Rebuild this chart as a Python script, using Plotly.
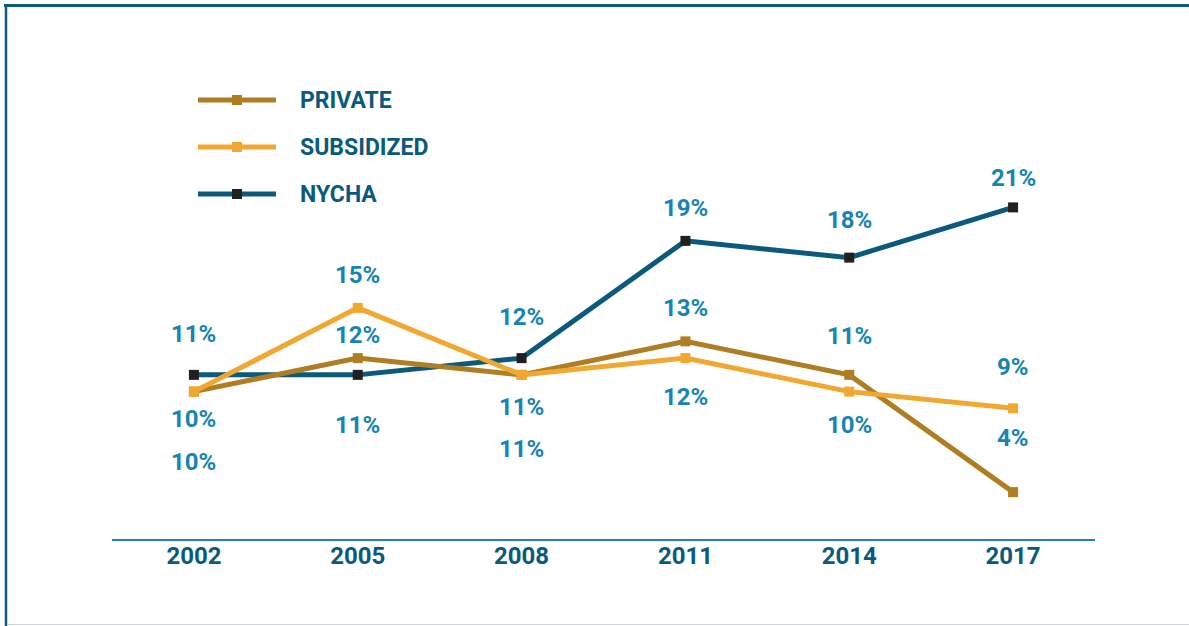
import plotly.graph_objects as go

# ---- data ----
years = ["2002", "2005", "2008", "2011", "2014", "2017"]
series_names = ["PRIVATE", "SUBSIDIZED", "NYCHA"]
private = [10, 12, 11, 13, 11, 4]
subsidized = [10, 15, 11, 12, 10, 9]
nycha = [11, 11, 12, 19, 18, 21]

# ---- styling ----
W, H = 1189, 626
ML, MR, MT, MB = 112, 94, 60, 87
PW, PH = W - ML - MR, H - MT - MB
Y_RANGE = [1.2, 29.8]

C_PRIV = "#b07e22"
C_SUB = "#f0a830"
C_NYC = "#0b5a7b"
C_NYC_MK = "#231f20"
C_LABEL = "#1785b0"
C_TICK = "#0b5a7b"
C_AXIS = "#1a87b0"
FONT = "Roboto"

# label pixel offsets (positive = up)
off_priv = [-70, 23, -32, 33, 39, 54]
off_sub = [-27, 33, -74, -39, -33, 41]
off_nyc = [41, -50, 41, 33, 38, 29]


def px_x(px):
    return (px - ML) / PW


def px_y(py):
    return (H - MB - py) / PH


fig = go.Figure()

traces = [
    ("NYCHA", nycha, C_NYC, C_NYC_MK),
    ("PRIVATE", private, C_PRIV, C_PRIV),
    ("SUBSIDIZED", subsidized, C_SUB, C_SUB),
]
for name, vals, lc, mc in traces:
    fig.add_trace(go.Scatter(
        x=years, y=vals, name=name, mode="lines+markers",
        line=dict(color=lc, width=5),
        marker=dict(symbol="square", size=10, color=mc),
        showlegend=False, hoverinfo="skip",
    ))

annotations = []
for vals, offs in [(nycha, off_nyc), (private, off_priv), (subsidized, off_sub)]:
    for i, (v, o) in enumerate(zip(vals, offs)):
        annotations.append(dict(
            x=i, y=v, xref="x", yref="y", text=f"{v}%", showarrow=False,
            xanchor="center", yanchor="middle",
            yshift=o, font=dict(family=FONT, size=24, color=C_LABEL, weight="bold"),
        ))

# manual legend
shapes = []
leg_colors = {"PRIVATE": (C_PRIV, C_PRIV), "SUBSIDIZED": (C_SUB, C_SUB), "NYCHA": (C_NYC, C_NYC_MK)}
leg_y = [100, 147, 194]
for name, py in zip(series_names, leg_y):
    lc, mc = leg_colors[name]
    shapes.append(dict(type="line", xref="paper", yref="paper",
                       x0=px_x(198), x1=px_x(276), y0=px_y(py), y1=px_y(py),
                       line=dict(color=lc, width=5)))
    shapes.append(dict(type="rect", xref="paper", yref="paper",
                       x0=px_x(232), x1=px_x(242), y0=px_y(py - 5), y1=px_y(py + 5),
                       fillcolor=mc, line=dict(width=0)))
    annotations.append(dict(
        x=px_x(298), y=px_y(py), xref="paper", yref="paper", text=name,
        showarrow=False, xanchor="left", yanchor="middle", yshift=0,
        font=dict(family=FONT, size=23, color=C_TICK, weight="bold"),
    ))

# frame
shapes.append(dict(type="line", xref="paper", yref="paper",
                   x0=px_x(4), x1=px_x(1189), y0=px_y(5.5), y1=px_y(5.5),
                   line=dict(color=C_NYC, width=3)))
shapes.append(dict(type="line", xref="paper", yref="paper",
                   x0=px_x(6), x1=px_x(6), y0=px_y(4), y1=px_y(626),
                   line=dict(color=C_NYC, width=2.5)))
shapes.append(dict(type="line", xref="paper", yref="paper",
                   x0=px_x(7), x1=px_x(1189), y0=px_y(624.5), y1=px_y(624.5),
                   line=dict(color="#cdd5dc", width=1)))

fig.update_layout(
    width=W, height=H,
    margin=dict(l=ML, r=MR, t=MT, b=MB),
    paper_bgcolor="white", plot_bgcolor="white",
    showlegend=False,
    annotations=annotations,
    shapes=shapes,
    xaxis=dict(
        type="category", range=[-0.5, 5.5], showgrid=False, zeroline=False,
        showline=True, linecolor=C_AXIS, linewidth=2,
        ticks="", tickfont=dict(family=FONT, size=24, color=C_TICK, weight="bold"),
        ticklabelstandoff=-6,
    ),
    yaxis=dict(range=Y_RANGE, showticklabels=False, showline=False,
               showgrid=False, zeroline=False, ticks=""),
)

fig.write_html("out.html", config={"displayModeBar": False},
               post_script="document.body.style.margin='0';")
